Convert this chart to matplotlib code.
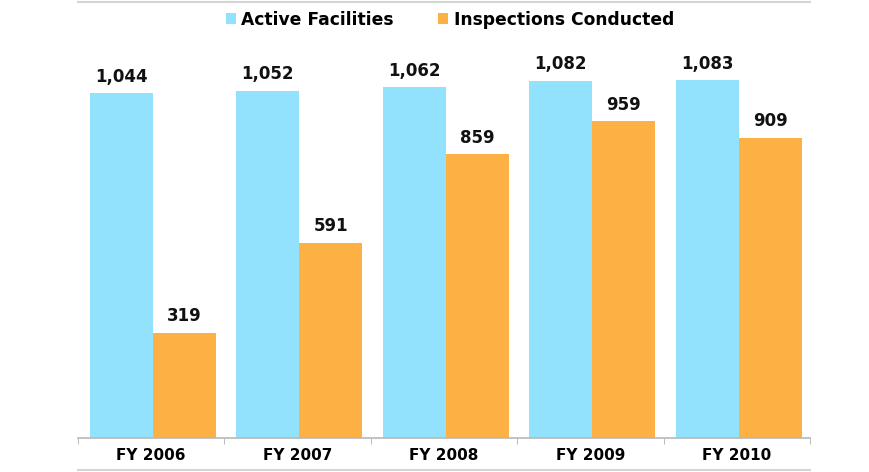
import numpy as np
import matplotlib.pyplot as plt
from matplotlib.lines import Line2D

plt.rcParams['font.family'] = ['DejaVu Sans']

# data
years = ['FY 2006', 'FY 2007', 'FY 2008', 'FY 2009', 'FY 2010']
active = [1044, 1052, 1062, 1082, 1083]
inspections = [319, 591, 859, 959, 909]

cyan = '#92E1FD'
orange = '#FDB043'

W, H = 869, 472
fig = plt.figure(figsize=(W / 100, H / 100), dpi=100)
ax = fig.add_axes([78 / W, 34 / H, (810 - 78) / W, (438 - 2) / H])

x = np.arange(len(years)) + 0.012
bw = 0.43
b1 = ax.bar(x - bw / 2, active, bw, color=cyan, label='Active Facilities')
b2 = ax.bar(x + bw / 2, inspections, bw, color=orange, label='Inspections Conducted')

for bars, vals in ((b1, active), (b2, inspections)):
    for rect, v in zip(bars, vals):
        ax.annotate(f'{v:,}', (rect.get_x() + rect.get_width() / 2, rect.get_height()),
                    xytext=(0, 5.5), textcoords='offset points', ha='center', va='bottom',
                    fontsize=12, fontweight='bold', color='#111111')

ax.set_xlim(-0.5, len(years) - 0.5)
ax.set_ylim(0, 1320)
ax.set_yticks([])
ax.set_xticks(np.arange(len(years)))
ax.set_xticklabels(years, fontsize=11, fontweight='bold')
ax.tick_params(axis='x', which='major', length=0, pad=7)
ax.set_xticks(np.arange(len(years) + 1) - 0.5, minor=True)
ax.tick_params(axis='x', which='minor', length=4, color='#b0b0b0', direction='out')

for s in ('left', 'right'):
    ax.spines[s].set_visible(False)
ax.spines['top'].set_color('#d4d4d4')
ax.spines['top'].set_linewidth(1.5)
ax.spines['bottom'].set_color('#b8b8b8')
ax.spines['bottom'].set_linewidth(1.2)

# bottom frame line under the category labels
fig.add_artist(Line2D([78 / W, 810 / W], [2 / H, 2 / H], color='#d4d4d4', lw=1.5))

ax.legend(loc='upper center', bbox_to_anchor=(0.508, 1.015), ncol=2, frameon=False,
          handlelength=0.6, handleheight=0.6, handletextpad=0.3, columnspacing=2.6,
          prop={'size': 12.3, 'weight': 'bold'})

fig.savefig('out.png', dpi=100)
